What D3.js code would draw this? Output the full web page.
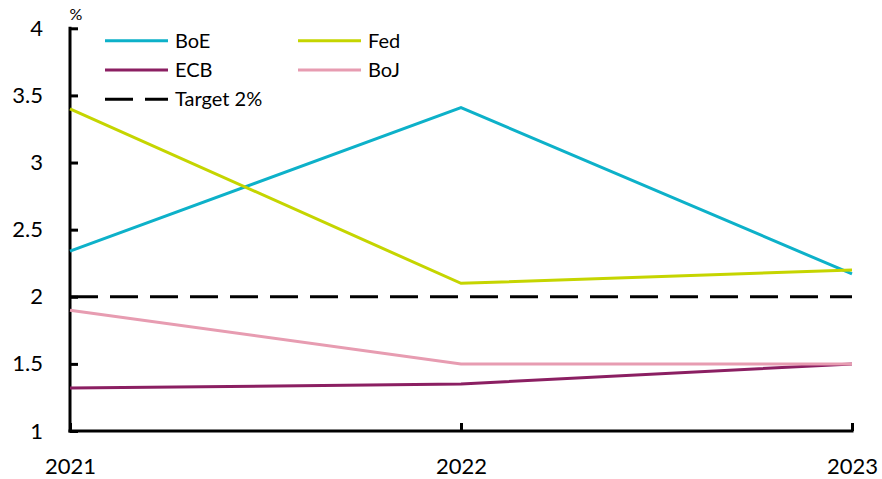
<!DOCTYPE html>
<html>
<head>
<meta charset="utf-8">
<script src="https://cdn.jsdelivr.net/npm/d3@7/dist/d3.min.js"></script>
<style>
  body { margin: 0; background: #fff; }
  svg { display: block; font-family: Lato, "Open Sans", sans-serif; }
</style>
</head>
<body>
<svg id="chart" width="882" height="479"></svg>
<script>
// Policy-rate expectations by central bank, %
const years = [2021, 2022, 2023];
const boe = [2.34, 3.41, 2.17];
const fed = [3.40, 2.10, 2.20];
const ecb = [1.32, 1.35, 1.50];
const boj = [1.90, 1.50, 1.50];
const target = 2;
const yTicks = [1, 1.5, 2, 2.5, 3, 3.5, 4];

const series = [
  { name: "BoE", values: boe, color: "#0db1c9" },
  { name: "Fed", values: fed, color: "#c5d500" },
  { name: "ECB", values: ecb, color: "#8b1f62" },
  { name: "BoJ", values: boj, color: "#e79cb1" }
];

const svg = d3.select("#chart");
const x = d3.scalePoint().domain(years).range([70, 852]);
const y = d3.scaleLinear().domain([1, 4]).range([431, 28.3]);

// Y axis with inward ticks
const yAxis = svg.append("g").attr("transform", "translate(70,0)")
  .call(d3.axisRight(y).tickValues(yTicks).tickSize(8).tickFormat(d3.format("")));
yAxis.select(".domain").remove();
yAxis.selectAll(".tick line").attr("stroke", "#000").attr("stroke-width", 3);
yAxis.selectAll(".tick text").attr("x", -27).attr("text-anchor", "end")
  .attr("font-size", 22).attr("fill", "#000").attr("font-family", "Lato, sans-serif");
svg.append("line").attr("x1", 70).attr("x2", 70).attr("y1", y(4) - 1.5).attr("y2", y(1) + 1.5)
  .attr("stroke", "#000").attr("stroke-width", 3);

// X axis with upward ticks
const xAxis = svg.append("g").attr("transform", `translate(0,${y(1)})`)
  .call(d3.axisTop(x).tickSize(8));
xAxis.select(".domain").remove();
xAxis.selectAll(".tick line").attr("stroke", "#000").attr("stroke-width", 3);
xAxis.selectAll(".tick text").attr("y", 43).attr("font-size", 22).attr("fill", "#000")
  .attr("font-family", "Lato, sans-serif").attr("text-anchor", "middle");
svg.append("line").attr("x1", 68.5).attr("x2", 853.5).attr("y1", y(1)).attr("y2", y(1))
  .attr("stroke", "#000").attr("stroke-width", 3);

svg.append("text").attr("x", 76).attr("y", 20).attr("text-anchor", "middle")
  .attr("font-size", 16).text("%");

// Target line
svg.append("line").attr("x1", x(2021)).attr("x2", x(2023)).attr("y1", y(target)).attr("y2", y(target))
  .attr("stroke", "#000").attr("stroke-width", 3).attr("stroke-dasharray", "28,12");

const line = d3.line().x((d, i) => x(years[i])).y(d => y(d));
svg.append("g").selectAll("path").data(series).join("path")
  .attr("d", d => line(d.values))
  .attr("fill", "none").attr("stroke", d => d.color).attr("stroke-width", 3);

// Legend
const legendItems = [
  { name: "BoE", color: "#0db1c9", col: 0, row: 0 },
  { name: "Fed", color: "#c5d500", col: 1, row: 0 },
  { name: "ECB", color: "#8b1f62", col: 0, row: 1 },
  { name: "BoJ", color: "#e79cb1", col: 1, row: 1 },
  { name: "Target 2%", color: "#000", col: 0, row: 2, dash: "28,12" }
];
const lg = svg.append("g").selectAll("g").data(legendItems).join("g")
  .attr("transform", d => `translate(${105 + d.col * 193},${40.7 + d.row * 29.3})`);
lg.append("line").attr("x1", 0).attr("x2", 63).attr("y1", 0).attr("y2", 0)
  .attr("stroke", d => d.color).attr("stroke-width", 3)
  .attr("stroke-dasharray", d => d.dash || null);
lg.append("text").attr("x", 70).attr("y", 7).attr("font-size", 20).text(d => d.name);
</script>
</body>
</html>
